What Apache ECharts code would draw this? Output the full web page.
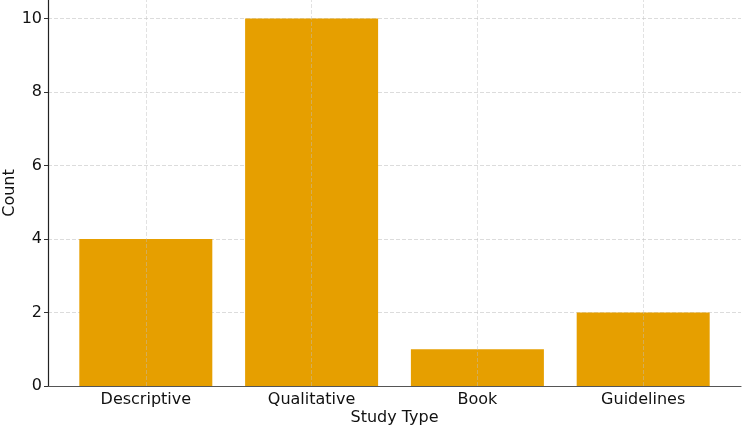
<!DOCTYPE html>
<html>
<head>
<meta charset="utf-8">
<script src="https://cdn.jsdelivr.net/npm/echarts@6/dist/echarts.min.js"></script>
<style>
  html, body { margin: 0; padding: 0; background: #fff; }
  #chart { width: 744px; height: 429px; }
</style>
</head>
<body>
<div id="chart"></div>
<script>
const categories = ["Descriptive", "Qualitative", "Book", "Guidelines"];
const counts = [4, 10, 1, 2];
const positions = [0, 1, 2, 3];

const chart = echarts.init(document.getElementById("chart"));

const gridLine = { color: "#dcdcdc", type: "dashed", width: 1 };

const option = {
  animation: false,
  textStyle: { fontFamily: "DejaVu Sans" },
  grid: { left: 48, right: 3, top: 0, bottom: 43, containLabel: false, outerBoundsMode: "none" },
  xAxis: {
    type: "value",
    min: -0.59,
    max: 3.59,
    name: "Study Type",
    nameLocation: "middle",
    nameGap: 24,
    nameMoveOverlap: false,
    nameTextStyle: { fontSize: 16, color: "#111" },
    axisLine: { show: true, onZero: false, lineStyle: { color: "#555", width: 1.2 } },
    axisTick: { show: true, inside: true, length: 4, customValues: positions, lineStyle: { color: "#333" } },
    axisLabel: {
      fontSize: 16,
      color: "#111",
      margin: 6,
      customValues: positions,
      formatter: (v) => categories[Math.round(v)]
    },
    splitLine: { show: false }
  },
  yAxis: {
    type: "value",
    min: 0,
    max: 10.5,
    interval: 2,
    name: "Count",
    nameLocation: "middle",
    nameGap: 30,
    nameMoveOverlap: false,
    nameTextStyle: { fontSize: 16, color: "#111" },
    axisLine: { show: true, onZero: false, lineStyle: { color: "#222", width: 1.2 } },
    axisTick: { show: true, length: 4, lineStyle: { color: "#333" } },
    axisLabel: { fontSize: 16, color: "#111", margin: 6, showMaxLabel: false },
    splitLine: { show: true, showMaxLine: false, lineStyle: gridLine }
  },
  series: [
    {
      type: "bar",
      barWidth: 133,
      itemStyle: { color: "#E69F00" },
      data: counts.map((c, i) => [positions[i], c]),
      markLine: {
        silent: true,
        symbol: "none",
        label: { show: false },
        lineStyle: { color: "rgba(190,190,190,0.45)", type: "dashed", width: 1 },
        data: positions.map((p) => ({ xAxis: p }))
      }
    }
  ]
};

chart.setOption(option);
</script>
</body>
</html>
